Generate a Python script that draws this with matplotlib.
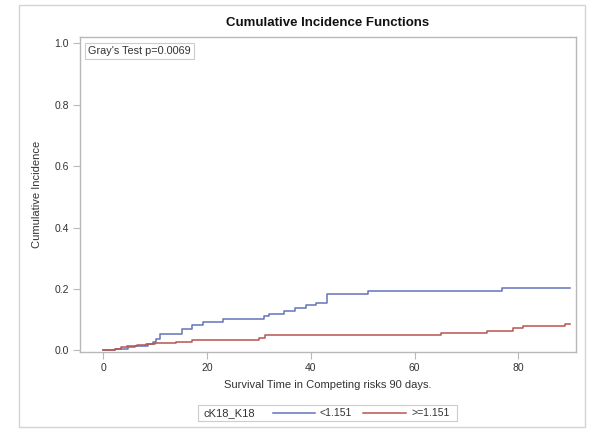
import matplotlib
matplotlib.use("Agg")
import matplotlib.pyplot as plt
from matplotlib.patches import Rectangle
from matplotlib.lines import Line2D

plt.rcParams['font.family'] = ['Liberation Sans', 'DejaVu Sans']

# Cumulative incidence step functions (time in days, CIF value)
time_low = [0, 2.3, 4.8, 6.1, 8.6, 9.6, 10.2, 10.9, 15.1, 17.0, 19.2, 23.0,
            30.9, 32.0, 34.9, 37.0, 39.0, 41.0, 43.1, 51.1, 76.9, 90.0]
cif_low = [0, 0.005, 0.011, 0.016, 0.022, 0.027, 0.038, 0.055, 0.071, 0.082,
           0.093, 0.101, 0.111, 0.120, 0.129, 0.138, 0.147, 0.156, 0.185,
           0.194, 0.203, 0.203]

time_high = [0, 2.3, 3.5, 4.5, 6.4, 8.3, 9.9, 14.1, 17.0, 30.1, 31.1, 65.1,
             73.9, 79.0, 80.9, 88.9, 90.0]
cif_high = [0, 0.005, 0.011, 0.015, 0.019, 0.022, 0.025, 0.029, 0.035, 0.042,
            0.049, 0.058, 0.064, 0.072, 0.079, 0.087, 0.087]

group_title = "cK18_K18"
group_labels = ["<1.151", ">=1.151"]
x_ticks = [0, 20, 40, 60, 80]
y_ticks = [0.0, 0.2, 0.4, 0.6, 0.8, 1.0]
test_text = "Gray's Test p=0.0069"

blue = "#6374b8"
red = "#b9544e"
spine_col = "#b8b8b8"
text_col = "#333333"

W, H = 592, 430
fig = plt.figure(figsize=(W / 100, H / 100), dpi=100)

# outer frame of the graph
fig.add_artist(Rectangle((19 / W, 1 - 427 / H), (585 - 19) / W, (427 - 5) / H,
                         transform=fig.transFigure, fill=False,
                         edgecolor="#d4d4d4", linewidth=1.0))

ax = fig.add_axes([80 / W, 1 - 352 / H, (576 - 80) / W, (352 - 37) / H])
ax.plot(time_low, cif_low, drawstyle="steps-post", color=blue, lw=1.1)
ax.plot(time_high, cif_high, drawstyle="steps-post", color=red, lw=1.1)

ax.set_xlim(-4.49, 91.1)
ax.set_ylim(-0.005, 1.021)
ax.set_xticks(x_ticks)
ax.set_yticks(y_ticks)
ax.set_yticklabels([f"{v:.1f}" for v in y_ticks])
for s in ax.spines.values():
    s.set_color(spine_col)
    s.set_linewidth(1.0)
ax.tick_params(axis="both", direction="out", length=5, width=0.8,
               color=spine_col, labelcolor=text_col, labelsize=7.5, pad=3)

ax.set_title("Cumulative Incidence Functions", fontsize=9.5,
             fontweight="bold", color="#111111", pad=8)
ax.set_xlabel("Survival Time in Competing risks 90 days.", fontsize=8,
              color=text_col, labelpad=5)
ax.set_ylabel("Cumulative Incidence", fontsize=8, color=text_col, labelpad=9)

# inset box with the test result
ax.text(0.016, 0.972, test_text, transform=ax.transAxes, ha="left", va="top",
        fontsize=7.8, color=text_col,
        bbox=dict(boxstyle="square,pad=0.3", facecolor="white",
                  edgecolor="#cccccc", linewidth=0.8))

# legend row below the plot
ly = 1 - 413 / H
fig.add_artist(Rectangle((198 / W, 1 - 421 / H), (457 - 198) / W, 16 / H,
                         transform=fig.transFigure, fill=False,
                         edgecolor="#cccccc", linewidth=0.8))
fig.text(203 / W, ly, group_title, fontsize=8, color=text_col,
         ha="left", va="center")
fig.add_artist(Line2D([273 / W, 315 / W], [ly, ly], color=blue, lw=1.1,
                      transform=fig.transFigure))
fig.text(320 / W, ly, group_labels[0], fontsize=7.5, color=text_col,
         ha="left", va="center")
fig.add_artist(Line2D([363 / W, 406 / W], [ly, ly], color=red, lw=1.1,
                      transform=fig.transFigure))
fig.text(412 / W, ly, group_labels[1], fontsize=7.5, color=text_col,
         ha="left", va="center")

fig.savefig("out.png", dpi=100)
